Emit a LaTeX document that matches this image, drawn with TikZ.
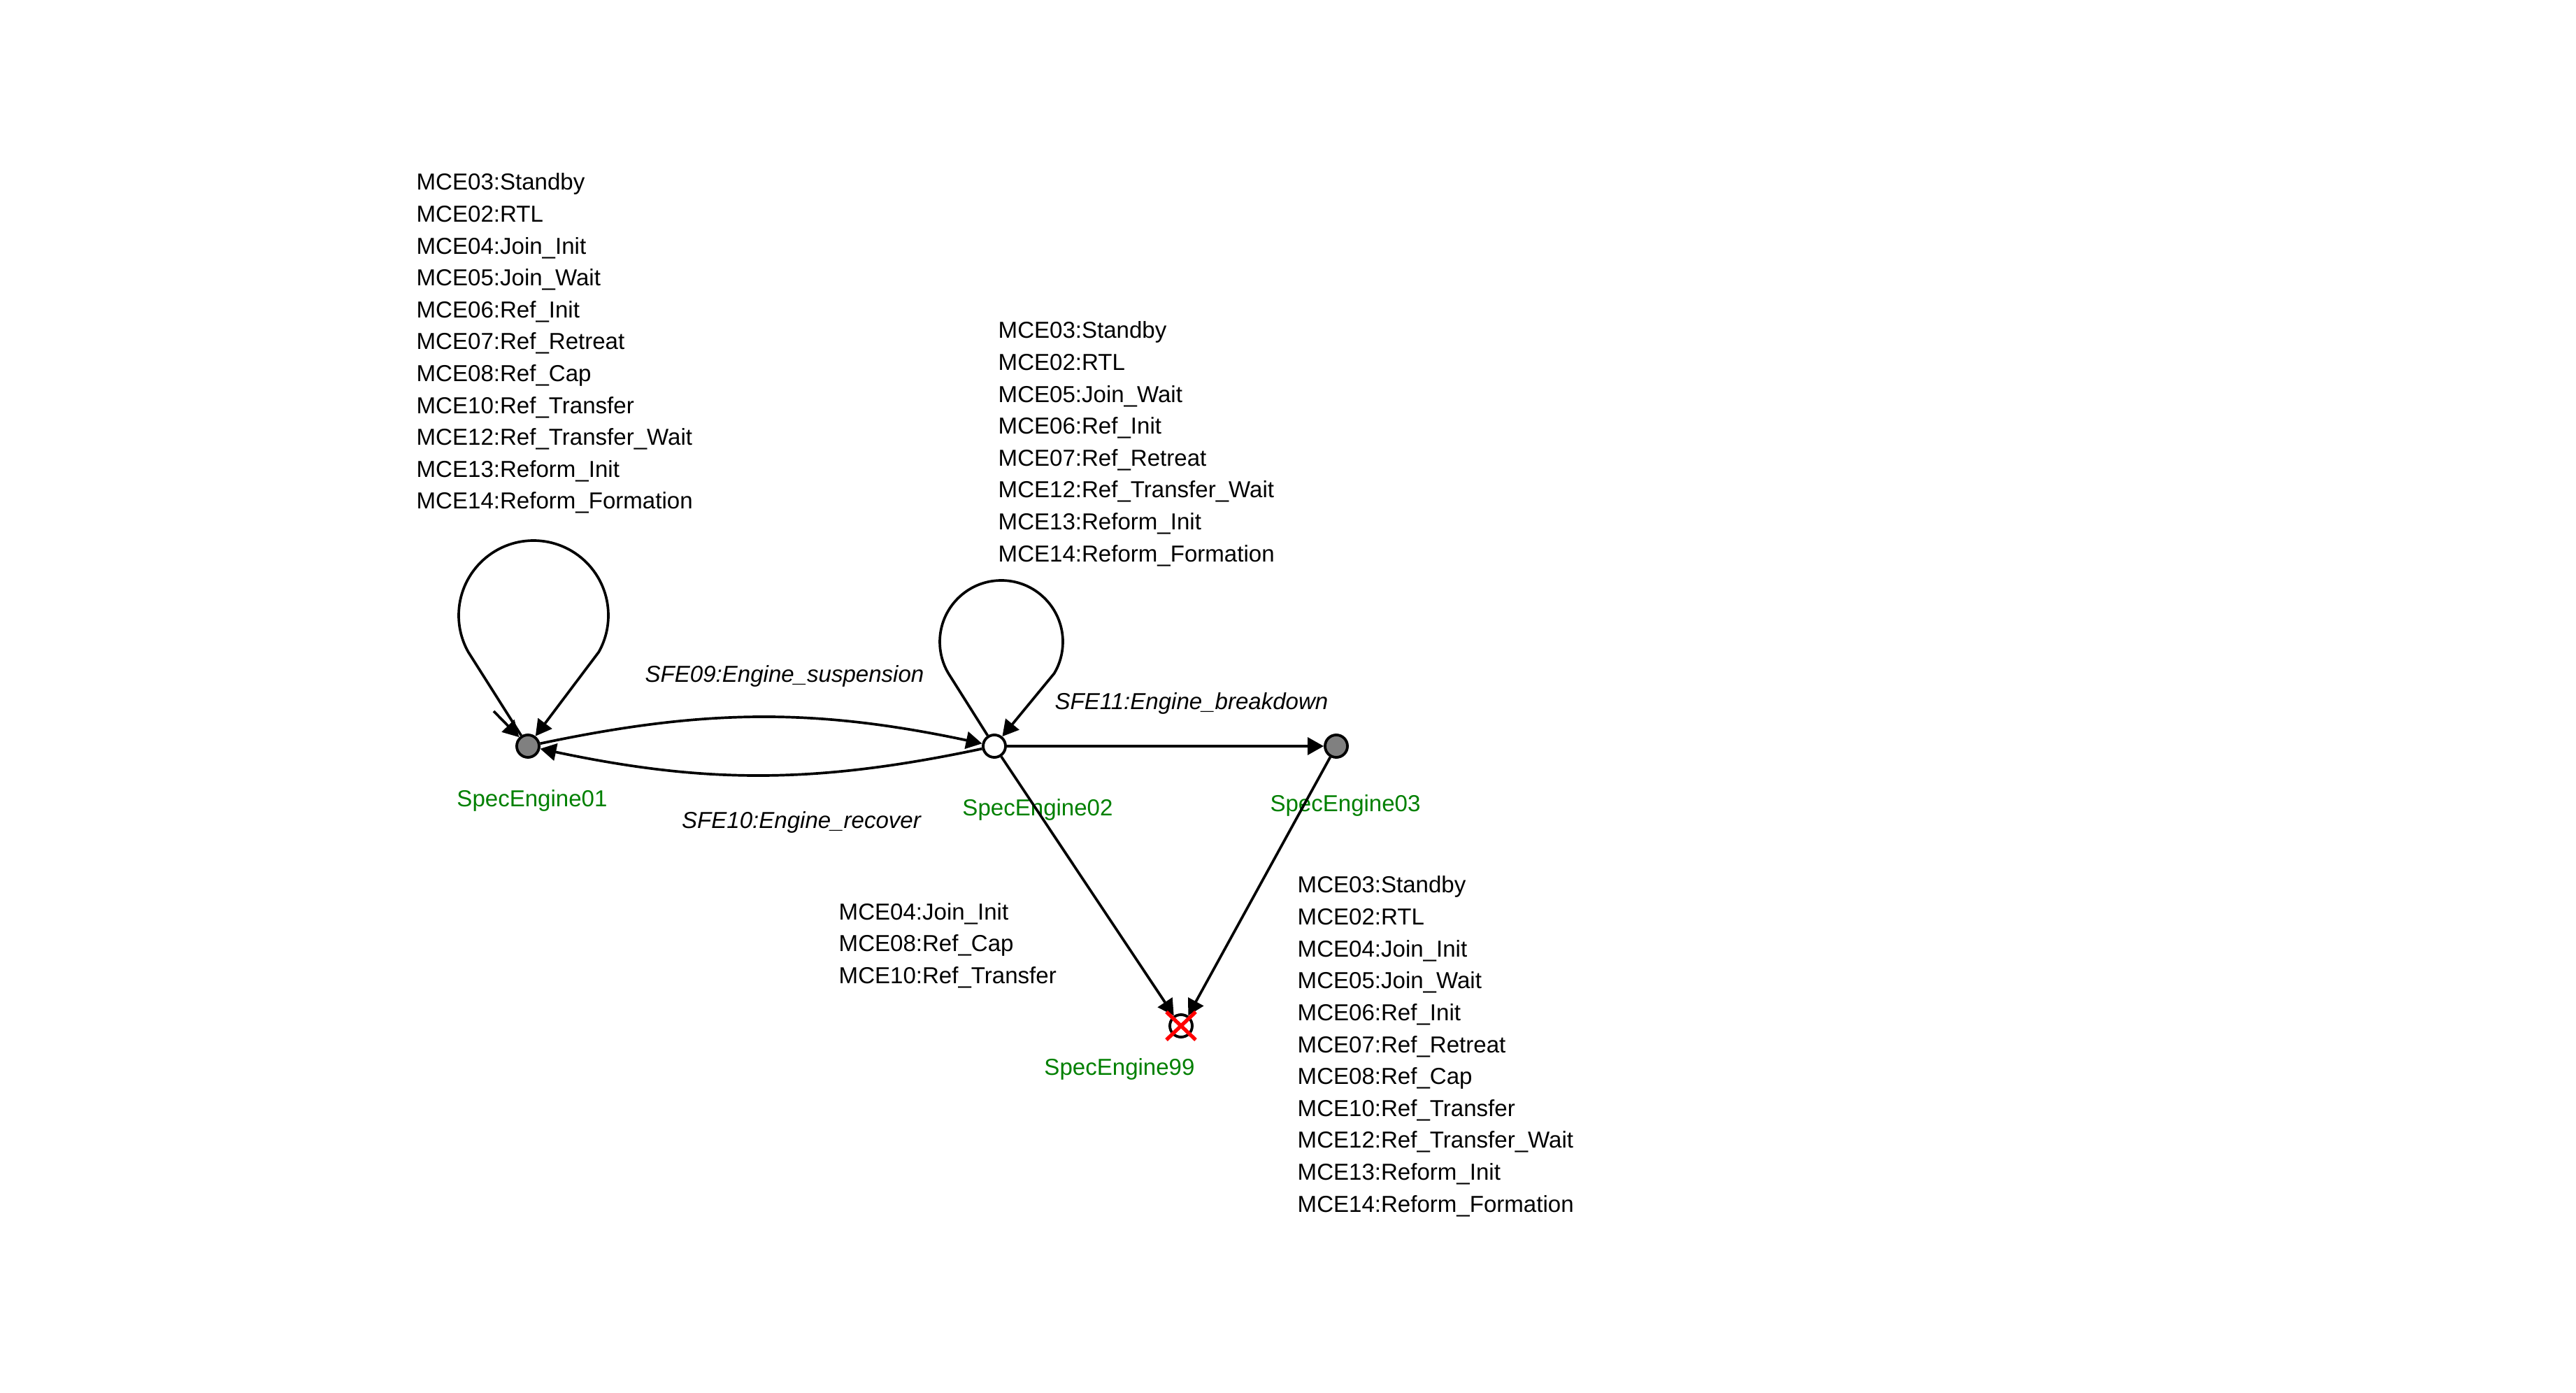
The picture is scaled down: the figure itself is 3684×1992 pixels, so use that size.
\documentclass[tikz,border=0pt]{standalone}
\usepackage{fontspec}
\setmainfont{Liberation Sans}
\usetikzlibrary{arrows.meta}
\definecolor{stgreen}{RGB}{0,128,0}
\definecolor{stgray}{RGB}{128,128,128}
\begin{document}
\begin{tikzpicture}[x=0.01cm,y=-0.01cm,
  state/.style={circle, draw=black, line width=1.1pt, minimum size=0.32cm, inner sep=0pt},
  arr/.style={line width=1.05pt, -{Triangle[length=6.5pt,width=7pt]}},
  lbl/.style={font=\fontsize{9.4}{11}\selectfont, inner sep=0pt, anchor=base west},
  elbl/.style={font=\fontsize{9.4}{11}\selectfont\itshape, inner sep=0pt, anchor=base},
  slbl/.style={font=\fontsize{9.4}{11}\selectfont, text=stgreen, inner sep=0pt, anchor=base},
  redx/.style={draw=red, line width=1.5pt}]
\path[use as bounding box, fill=white] (0,0) rectangle (3684,1992);

% text blocks
\foreach \t [count=\i from 0] in {MCE03:Standby, MCE02:RTL, MCE04:Join\_Init, MCE05:Join\_Wait, MCE06:Ref\_Init, MCE07:Ref\_Retreat, MCE08:Ref\_Cap, MCE10:Ref\_Transfer, MCE12:Ref\_Transfer\_Wait, MCE13:Reform\_Init, MCE14:Reform\_Formation}
  \node[lbl] (tl\i) at (595,{272+45.6*\i}) {\t};
\foreach \t [count=\i from 0] in {MCE03:Standby, MCE02:RTL, MCE05:Join\_Wait, MCE06:Ref\_Init, MCE07:Ref\_Retreat, MCE12:Ref\_Transfer\_Wait, MCE13:Reform\_Init, MCE14:Reform\_Formation}
  \node[lbl] (tm\i) at (1427,{484+45.6*\i}) {\t};
\foreach \t [count=\i from 0] in {MCE04:Join\_Init, MCE08:Ref\_Cap, MCE10:Ref\_Transfer}
  \node[lbl] (tb\i) at (1199,{1315+45.6*\i}) {\t};
\foreach \t [count=\i from 0] in {MCE03:Standby, MCE02:RTL, MCE04:Join\_Init, MCE05:Join\_Wait, MCE06:Ref\_Init, MCE07:Ref\_Retreat, MCE08:Ref\_Cap, MCE10:Ref\_Transfer, MCE12:Ref\_Transfer\_Wait, MCE13:Reform\_Init, MCE14:Reform\_Formation}
  \node[lbl] (tr\i) at (1855,{1277+45.6*\i}) {\t};

% state labels
\node[slbl] (l1) at (761,1153) {SpecEngine01};
\node[slbl] (l2) at (1484,1166) {SpecEngine02};
\node[slbl] (l3) at (1924,1161) {SpecEngine03};
\node[slbl] (l99) at (1601,1537) {SpecEngine99};

% edge labels
\node[elbl] (e9) at (1122,976) {SFE09:Engine\_suspension};
\node[elbl] (e10) at (1146,1185) {SFE10:Engine\_recover};
\node[elbl] (e11) at (1704,1015) {SFE11:Engine\_breakdown};

% states
\node[state, fill=stgray] (n1) at (755,1067) {};
\node[state, fill=white] (n2) at (1422,1067) {};
\node[state, fill=stgray] (n3) at (1911,1067) {};
\node[state, fill=white] (n99) at (1689,1467) {};

% initial arrow
\coordinate (init) at (706,1017);
\draw[arr] (init) -- (n1);

% self loops
\draw[arr] (n1) -- (669.7,932.4) .. controls (660.7,916.4) and (656,898.4) .. (656,880)
  .. controls (656,820.9) and (703.9,773) .. (763,773)
  .. controls (822.1,773) and (870,820.9) .. (870,880)
  .. controls (870,898.4) and (865.3,916.4) .. (856.3,932.4) -- (n1);
\draw[arr] (n2) -- (1356.3,962.9) .. controls (1348.2,949.3) and (1344,933.8) .. (1344,918)
  .. controls (1344,869.4) and (1383.4,830) .. (1432,830)
  .. controls (1480.6,830) and (1520,869.4) .. (1520,918)
  .. controls (1520,933.8) and (1515.8,949.3) .. (1507.7,962.9) -- (n2);

% transitions
\draw[arr] (n1) .. controls (1010,1013) and (1167,1013) .. (n2);
\draw[arr] (n2) .. controls (1167,1121) and (1010,1121) .. (n1);
\draw[arr] (n2) -- (n3);
\draw[arr] (n2) -- (n99.125);
\draw[arr] (n3) -- (n99.55);

% red cross on final state
\draw[redx] ([shift={(-21,-20)}]n99.center) -- ([shift={(21,20)}]n99.center);
\draw[redx] ([shift={(21,-20)}]n99.center) -- ([shift={(-21,20)}]n99.center);
\end{tikzpicture}
\end{document}
